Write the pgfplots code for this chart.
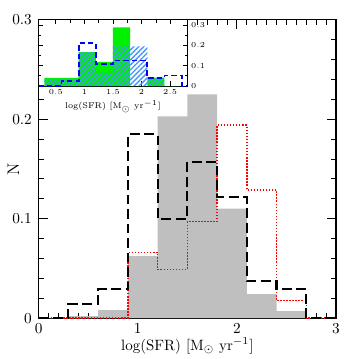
\documentclass[border=0pt]{standalone}
\usepackage{pgfplots}
\pgfplotsset{compat=1.18}
\usetikzlibrary{patterns.meta}
\definecolor{lgreen}{RGB}{0,240,0}
\definecolor{hblue}{RGB}{70,150,255}
\definecolor{sgray}{RGB}{191,191,191}
\begin{document}
\begin{tikzpicture}
\begin{axis}[name=main, width=195pt, height=195.6pt, scale only axis,
  xmin=0, xmax=3, ymin=0, ymax=0.3,
  xtick={0,1,2,3}, ytick={0,0.1,0.2,0.3},
  minor x tick num=9, minor y tick num=4,
  major tick length=6pt, minor tick length=3.2pt,
  axis line style={line width=0.7pt},
  every tick/.style={black, line width=0.6pt},
  xlabel={log(SFR) [M$_\odot$ yr$^{-1}$]}, ylabel={N},
  every axis y label/.style={at={(axis description cs:-0.085,0.5)}, anchor=center, rotate=90, font=\fontsize{11}{13}\selectfont},
  every axis x label/.style={at={(axis description cs:0.5,-0.093)}, anchor=center, font=\fontsize{9.8}{12}\selectfont},
  tick label style={font=\fontsize{10}{12}\selectfont},
  xticklabel style={yshift=0pt},
  yticklabel style={xshift=-1pt, /pgf/number format/fixed},
  clip=true]
\addplot[const plot, fill=sgray, draw=none] coordinates {
 (0,0) (0.3,0.002) (0.6,0.008) (0.9,0.0625) (1.2,0.203) (1.5,0.225) (1.8,0.110) (2.1,0.024) (2.4,0.007) (2.7,0) (3,0)} \closedcycle;
\addplot[const plot, red, line width=1pt, dash pattern=on 1pt off 1pt] coordinates {
 (0,0) (0.3,0) (0.6,0) (0.9,0.066) (1.2,0.049) (1.5,0.097) (1.8,0.194) (2.1,0.129) (2.4,0.0176) (2.7,0) (3,0)};
\addplot[const plot, black, line width=1.4pt, dash pattern=on 6.5pt off 3pt] coordinates {
 (0,0) (0.3,0.0143) (0.6,0.029) (0.9,0.185) (1.2,0.100) (1.5,0.157) (1.8,0.1216) (2.1,0.037) (2.4,0.029) (2.7,0) (3,0)};
\end{axis}
\begin{axis}[at={(main.north west)}, anchor=north west,
  width=97.5pt, height=43.4pt, scale only axis,
  xmin=0.2, xmax=2.8, ymin=0, ymax=0.325,
  xtick={0.5,1,1.5,2,2.5}, ytick={0,0.1,0.2,0.3},
  minor x tick num=1, minor y tick num=1,
  yticklabel pos=right,
  major tick length=3pt, minor tick length=1.8pt,
  axis line style={line width=0.6pt},
  every tick/.style={black, line width=0.5pt},
  tick label style={font=\fontsize{5}{6}\selectfont},
  xticklabel style={yshift=1pt},
  yticklabel style={xshift=-1pt, /pgf/number format/fixed},
  xlabel={log(SFR) [M$_\odot$ yr$^{-1}$]},
  xlabel style={font=\fontsize{5.5}{6.5}\selectfont, yshift=3pt},
  axis background/.style={fill=white}]
\addplot[const plot, fill=lgreen, draw=none] coordinates {
 (0.3,0.04) (0.6,0.04) (0.9,0.166) (1.2,0.118) (1.5,0.288) (1.8,0) (2.1,0.041) (2.4,0) (2.7,0)} \closedcycle;
\addplot[const plot, draw=none, pattern={Lines[angle=45,distance=2.3pt,line width=0.9pt]}, pattern color=hblue] coordinates {
 (0.3,0.035) (0.6,0.035) (0.9,0.166) (1.2,0.065) (1.5,0.195) (1.8,0.195) (2.1,0.041) (2.4,0) (2.7,0)} \closedcycle;
\addplot[const plot, blue, line width=1.2pt, dash pattern=on 3.5pt off 2pt] coordinates {
 (0.2,0) (0.6,0.025) (0.9,0.21) (1.2,0.11) (1.5,0.125) (1.8,0.125) (2.1,0.041) (2.4,0.052) (2.7,0) (2.8,0)};
\end{axis}
\path ([shift={(-25.35pt,-24.7pt)}]main.south west) rectangle ([shift={(13pt,13pt)}]main.north east);
\end{tikzpicture}
\end{document}
